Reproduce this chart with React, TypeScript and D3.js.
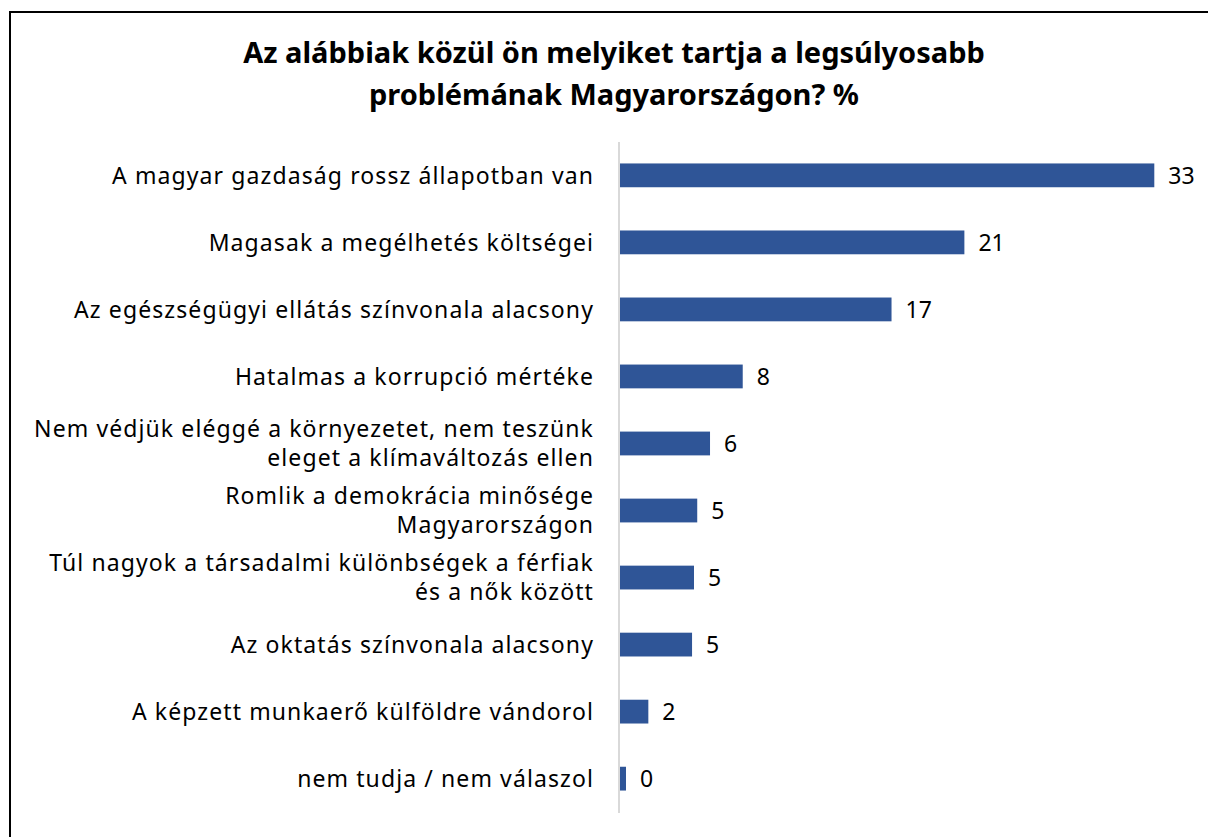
import React from "react";
import * as d3 from "d3";

const titleLines = [
  "Az alábbiak közül ön melyiket tartja a legsúlyosabb",
  "problémának Magyarországon? %",
];

const categories: string[][] = [
  ["A magyar gazdaság rossz állapotban van"],
  ["Magasak a megélhetés költségei"],
  ["Az egészségügyi ellátás színvonala alacsony"],
  ["Hatalmas a korrupció mértéke"],
  ["Nem védjük eléggé a környezetet, nem teszünk", "eleget a klímaváltozás ellen"],
  ["Romlik a demokrácia minősége", "Magyarországon"],
  ["Túl nagyok a társadalmi különbségek a férfiak", "és a nők között"],
  ["Az oktatás színvonala alacsony"],
  ["A képzett munkaerő külföldre vándorol"],
  ["nem tudja / nem válaszol"],
];

const values = [33, 21.27, 16.77, 7.58, 5.56, 4.77, 4.57, 4.45, 1.75, 0.37];
const valueLabels = ["33", "21", "17", "8", "6", "5", "5", "5", "2", "0"];

const W = 1208;
const H = 837;
const BLUE = "#2F5597";
const FONT = "'Noto Sans', 'Open Sans', sans-serif";

export default function App() {
  const x0 = 620;
  const x = d3.scaleLinear().domain([0, 33]).range([x0, 1154.3]);
  const ids = categories.map((_, i) => String(i));
  const y = d3.scaleBand().domain(ids).range([142, 812]).paddingInner(0.645).paddingOuter(0.32);
  const bh = y.bandwidth();

  return (
    <svg width={W} height={H} style={{ position: "absolute", left: 0, top: 0 }}>
      <rect x={0} y={0} width={W} height={H} fill="#fff" />
      <rect x={10} y={12} width={1220} height={840} fill="none" stroke="#000" strokeWidth={2} />
      {titleLines.map((t, i) => (
        <text
          key={i}
          x={614}
          y={63 + i * 42}
          textAnchor="middle"
          fontFamily={FONT}
          fontWeight="bold"
          fontSize={29}
          fill="#000"
        >
          {t}
        </text>
      ))}
      <line x1={619} x2={619} y1={142} y2={813} stroke="#d9d9d9" strokeWidth={2} />
      {values.map((v, i) => {
        const yc = (y(String(i)) as number) + bh / 2;
        const lines = categories[i];
        const lh = 29;
        return (
          <g key={i}>
            <rect x={x(0)} y={yc - bh / 2} width={x(v) - x(0)} height={bh} fill={BLUE} />
            <text
              x={x(v) + 14}
              y={yc}
              dy="0.36em"
              fontFamily={FONT}
              fontSize={23}
              fill="#000"
            >
              {valueLabels[i]}
            </text>
            {lines.map((l, j) => (
              <text
                key={j}
                x={594}
                y={yc + (j - (lines.length - 1) / 2) * lh}
                dy="0.36em"
                textAnchor="end"
                fontFamily={FONT}
                fontSize={23}
                letterSpacing={1.1}
                fill="#000"
              >
                {l}
              </text>
            ))}
          </g>
        );
      })}
    </svg>
  );
}
